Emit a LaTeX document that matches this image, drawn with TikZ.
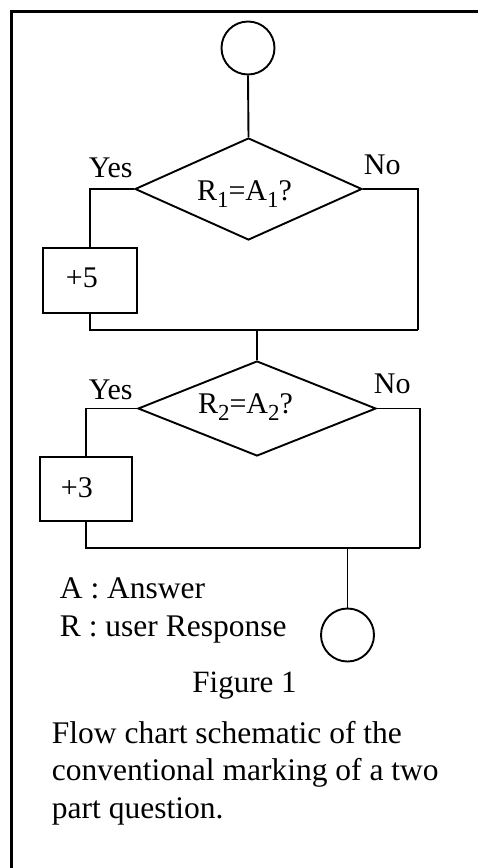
\documentclass[tikz,border=0pt]{standalone}
\usepackage{fontspec}
\setmainfont{Liberation Serif}
\usetikzlibrary{shapes.geometric}
\newcommand\sbs[1]{\raisebox{-7pt}{\fontsize{23}{23}\selectfont #1}}
\begin{document}
\begin{tikzpicture}[x=1pt,y=-1pt,line width=1.9pt,
  lbl/.style={inner sep=0pt,font=\fontsize{30}{36}\selectfont},
  leg/.style={inner sep=0pt,font=\fontsize{31.5}{37.5}\selectfont,anchor=base west},
  term/.style={circle,draw,minimum size=53pt,inner sep=0pt},
  decide/.style={diamond,draw,inner sep=0pt},
  score/.style={rectangle,draw,inner sep=0pt}]
\useasboundingbox (0,0) rectangle (478,868);
\draw[line width=2.3pt] (11.5,868) -- (11.5,11.5) -- (478,11.5);
% nodes
\node[term] (start) at (248,48) {};
\node[decide,minimum width=227pt,minimum height=102pt] (d1) at (248.5,189) {};
\node[lbl,anchor=base] (t1) at (244.5,200) {R\sbs{1}=A\sbs{1}?};
\node[score,minimum width=94pt,minimum height=65pt] (b1) at (90,280.5) {};
\node[lbl,anchor=base west] (p5) at (65,287) {+5};
\node[lbl,anchor=base west] (y1) at (88,177) {Yes};
\node[lbl,anchor=base west] (n1) at (363,174) {No};
\coordinate (m1r) at (418,330);
\coordinate (j1) at (257,330);
\node[decide,minimum width=238pt,minimum height=95pt] (d2) at (257,408.5) {};
\node[lbl,anchor=base] (t2) at (245.5,413) {R\sbs{2}=A\sbs{2}?};
\node[score,minimum width=92pt,minimum height=64pt] (b2) at (86,489) {};
\node[lbl,anchor=base west] (p3) at (60,497) {+3};
\node[lbl,anchor=base west] (y2) at (88,399) {Yes};
\node[lbl,anchor=base west] (n2) at (373,393) {No};
\coordinate (m2r) at (420,548);
\coordinate (j2) at (347.5,548);
\node[term] (end) at (347.5,635) {};
% connectors
\draw (start.south) -- (d1.north);
\draw (d1.west) -| (b1.north);
\draw (b1.south) |- (m1r);
\draw (d1.east) -| (m1r);
\draw (j1) -- (d2.north);
\draw (d2.west) -| (b2.north);
\draw (b2.south) |- (m2r);
\draw (d2.east) -| (m2r);
\draw (j2) -- (end.north);
% legend and caption
\node[leg] (la) at (59,598) {A : Answer};
\node[leg] (lr) at (59,636) {R : user Response};
\node[leg,anchor=base,font=\fontsize{31}{37}\selectfont] (fig) at (244.5,692) {Figure 1};
\node[leg] (c1) at (51,743) {Flow chart schematic of the};
\node[leg] (c2) at (51,780) {conventional marking of a two};
\node[leg] (c3) at (51,818) {part question.};
\end{tikzpicture}
\end{document}
